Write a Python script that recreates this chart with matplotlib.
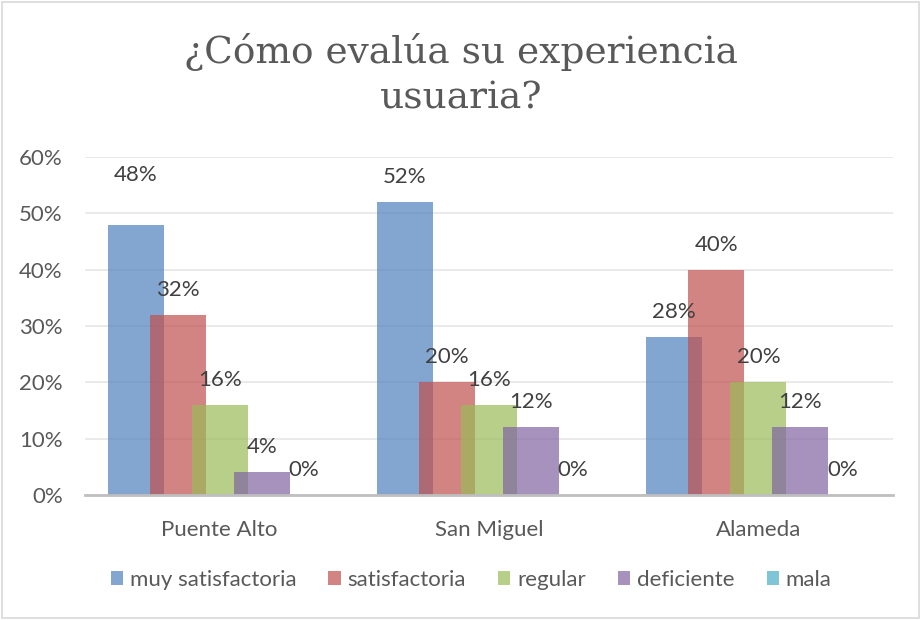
import matplotlib
matplotlib.use("Agg")
import matplotlib.pyplot as plt
import numpy as np
from matplotlib.patches import Rectangle, Patch
from matplotlib.ticker import FuncFormatter, MultipleLocator

categories = ["Puente Alto", "San Miguel", "Alameda"]
series_names = ["muy satisfactoria", "satisfactoria", "regular", "deficiente", "mala"]
muy_satisfactoria = [0.48, 0.52, 0.28]
satisfactoria = [0.32, 0.20, 0.40]
regular = [0.16, 0.16, 0.20]
deficiente = [0.04, 0.12, 0.12]
mala = [0.00, 0.00, 0.00]
series_values = [muy_satisfactoria, satisfactoria, regular, deficiente, mala]
colors = ["#4F81BD", "#C0504D", "#9BBB59", "#8064A2", "#4BACC6"]
title = "¿Cómo evalúa su experiencia\nusuaria?"

text_color = "#595959"
font = "Lato"
fs = 16

fig = plt.figure(figsize=(9.21, 6.20), dpi=100)
ax = fig.add_axes([85/921, 1-495/620, 808/921, (495-157)/620])

x = np.arange(len(categories))
width = 0.207
step = 0.156
n = len(series_values)
for i, (name, vals, c) in enumerate(zip(series_names, series_values, colors)):
    off = (i - (n-1)/2) * step
    ax.bar(x + off, vals, width=width, color=c, alpha=0.7, label=name, zorder=3, linewidth=0)
    for j, (xi, v) in enumerate(zip(x + off, vals)):
        dy = 18
        if i == 0 and j == 0:
            dy = 36
        ax.annotate(f"{round(v*100):d}%", (xi, v), xytext=(0, dy), textcoords="offset points",
                    ha="center", va="center", fontsize=fs, color="#404040", family=font, zorder=5)

ax.set_xlim(-0.5, len(categories) - 0.5)
ax.set_ylim(0, 0.6)
ax.yaxis.set_major_locator(MultipleLocator(0.1))
ax.yaxis.set_major_formatter(FuncFormatter(lambda v, p: f"{round(v*100):d}%"))
ax.set_xticks(x)
ax.set_xticklabels(categories)
ax.grid(axis="y", color="#E6E6E6", linewidth=1.2, zorder=0)
for s in ["top", "right", "left"]:
    ax.spines[s].set_visible(False)
ax.spines["bottom"].set_color("#BFBFBF")
ax.spines["bottom"].set_linewidth(2)
ax.spines["bottom"].set_zorder(4)
ax.tick_params(axis="both", length=0, labelsize=fs, colors=text_color)
ax.tick_params(axis="y", pad=16)
ax.tick_params(axis="x", pad=18)
for lab in ax.get_xticklabels() + ax.get_yticklabels():
    lab.set_family(font)
    lab.set_color(text_color)

fig.text(461/921, 1-75/620, title, ha="center", va="center", fontsize=27, color=text_color,
         family="DejaVu Serif", linespacing=1.35)

handles = [Patch(facecolor=c, alpha=0.7, edgecolor="none") for c in colors]
fig.legend(handles, series_names, loc="center", bbox_to_anchor=(471/921, 1-580/620), ncol=5,
           frameon=False, handlelength=0.55, handleheight=0.55, handletextpad=0.3, columnspacing=1.45,
           prop={"family": font, "size": fs}, labelcolor=text_color)

fig.patches.append(Rectangle((0.002, 0.003), 0.996, 0.994, transform=fig.transFigure, fill=False,
                             edgecolor="#D9D9D9", linewidth=1.2))

fig.savefig("out.png", dpi=100, facecolor="white")
